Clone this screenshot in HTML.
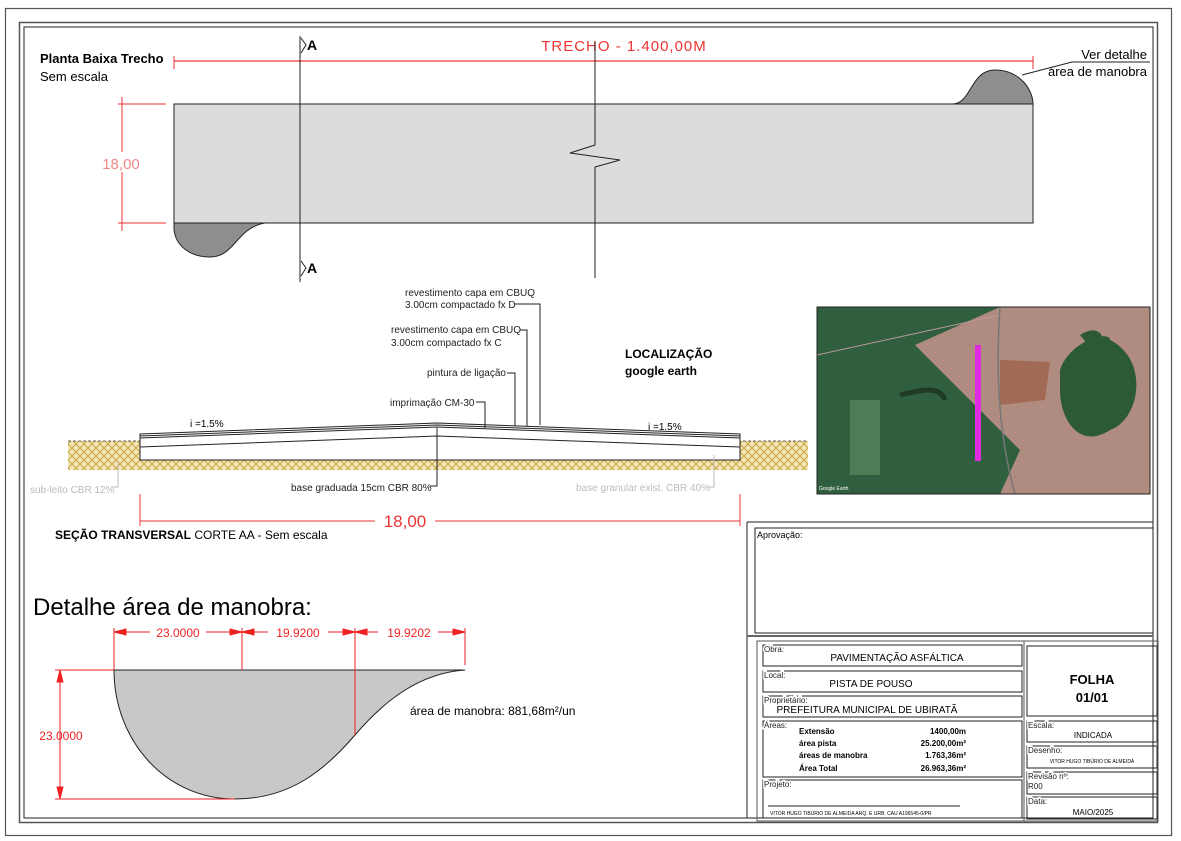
<!DOCTYPE html>
<html><head><meta charset="utf-8"><style>
html,body{margin:0;padding:0;background:#fff}
svg{display:block}
text{font-family:"Liberation Sans",sans-serif}
</style></head><body>
<svg width="1181" height="841" viewBox="0 0 1181 841" xmlns="http://www.w3.org/2000/svg">
<defs>
<pattern id="h" width="8" height="8" patternUnits="userSpaceOnUse">
<rect width="8" height="8" fill="#f3e6b8"/>
<path d="M0 8L8 0M-2 2L2 -2M6 10L10 6M0 0L8 8" stroke="#c9a440" stroke-width="1"/>
</pattern>
</defs>
<rect width="1181" height="841" fill="#fff"/>
<!-- frames -->
<rect x="5.5" y="8.5" width="1166" height="827" fill="none" stroke="#555" stroke-width="1.2"/>
<rect x="19.5" y="22.5" width="1138" height="800" fill="none" stroke="#555" stroke-width="1.5"/>
<rect x="24" y="27" width="1129" height="791" fill="none" stroke="#222" stroke-width="1"/>

<!-- Planta baixa -->
<text x="40" y="63" font-size="13" font-weight="bold">Planta Baixa Trecho</text>
<text x="40" y="81" font-size="13">Sem escala</text>
<line x1="174" y1="61" x2="1033" y2="61" stroke="#e33" stroke-width="1.2"/>
<line x1="174" y1="56" x2="174" y2="69" stroke="#e33"/>
<line x1="1033" y1="56" x2="1033" y2="69" stroke="#e33"/>
<rect x="550" y="38" width="150" height="16" fill="#fff"/>
<text x="624" y="51" font-size="15" fill="#e33" text-anchor="middle" letter-spacing="1">TRECHO - 1.400,00M</text>
<path d="M174 104H952C972 104 970 70 995 70C1020 70 1033 90 1033 104V223H174Z" fill="#dcdcdc" stroke="none"/>
<path d="M952 104C972 104 970 70 995 70C1020 70 1033 90 1033 104Z" fill="#8e8e90" stroke="#222"/>
<rect x="174" y="104" width="859" height="119" fill="none" stroke="#222"/>
<path d="M174 223V230C176 246 190 257 210 257C235 257 236 228 265 223Z" fill="#8e8e90" stroke="#222"/>
<line x1="122" y1="97" x2="122" y2="231" stroke="#e33"/>
<line x1="118" y1="104" x2="166" y2="104" stroke="#e33"/>
<line x1="118" y1="223" x2="166" y2="223" stroke="#e33"/>
<rect x="100" y="152" width="42" height="20" fill="#fff"/>
<text x="121" y="169" font-size="15" fill="#e88" text-anchor="middle">18,00</text>
<line x1="300" y1="36" x2="300" y2="282" stroke="#222"/>
<path d="M301 38L306 45L301 53" fill="none" stroke="#222"/>
<path d="M301 261L306 268L301 276" fill="none" stroke="#222"/>
<text x="307" y="50" font-size="14" font-weight="bold">A</text>
<text x="307" y="273" font-size="14" font-weight="bold">A</text>
<path d="M595 42V145L570 153L620 160L595 167V278" fill="none" stroke="#222"/>
<text x="1147" y="59" font-size="13" text-anchor="end">Ver detalhe</text>
<text x="1147" y="76" font-size="13" text-anchor="end">área de manobra</text>
<line x1="1072" y1="62" x2="1150" y2="62" stroke="#222"/>
<line x1="1072" y1="62" x2="1022" y2="75" stroke="#222"/>

<!-- Section -->
<rect x="68" y="441" width="740" height="29" fill="url(#h)"/>
<line x1="68" y1="441" x2="808" y2="441" stroke="#333" stroke-dasharray="3 2" stroke-width="0.8"/>
<path d="M140 434L437 423L740 434V460H140Z" fill="#fff" stroke="#222"/>
<path d="M140 436L437 425L740 436M140 438L437 427L740 438" fill="none" stroke="#222"/>
<path d="M140 447L437 436L740 447" fill="none" stroke="#222"/>
<text x="190" y="427" font-size="10">i =1.5%</text>
<text x="648" y="430" font-size="10">i =1.5%</text>
<g font-size="10" fill="#222">
<text x="405" y="296">revestimento capa em CBUQ</text>
<text x="405" y="308">3.00cm compactado fx D</text>
<text x="391" y="333">revestimento capa em CBUQ</text>
<text x="391" y="346">3.00cm compactado fx C</text>
<text x="427" y="376">pintura de ligação</text>
<text x="390" y="406">imprimação CM-30</text>
<text x="291" y="491">base graduada 15cm CBR 80%</text>
</g>
<g fill="none" stroke="#222">
<path d="M515 304H540V425"/>
<path d="M520 330H527V426"/>
<path d="M507 373H515V426"/>
<path d="M476 402H485V428"/>
<path d="M437 428V486H430"/>
</g>
<text x="30" y="493" font-size="10" fill="#bbb">sub-leito CBR 12%</text>
<path d="M112 487H118V462" fill="none" stroke="#bbb"/>
<text x="576" y="491" font-size="10" fill="#bbb">base granular exist. CBR 40%</text>
<path d="M707 487H714V455" fill="none" stroke="#bbb"/>
<line x1="140" y1="521" x2="740" y2="521" stroke="#e33"/>
<line x1="140" y1="494" x2="140" y2="526" stroke="#e33"/>
<line x1="740" y1="494" x2="740" y2="526" stroke="#e33"/>
<rect x="375" y="510" width="60" height="20" fill="#fff"/>
<text x="405" y="527" font-size="17" fill="#e33" text-anchor="middle">18,00</text>
<text x="55" y="539" font-size="12"><tspan font-weight="bold">SEÇÃO TRANSVERSAL</tspan> CORTE AA - Sem escala</text>
<text x="625" y="358" font-size="12" font-weight="bold">LOCALIZAÇÃO</text>
<text x="625" y="375" font-size="12" font-weight="bold">google earth</text>

<!-- Map -->
<g>
<rect x="817" y="307" width="333" height="187" fill="#2f5f3e"/>
<path d="M915 345L1000 307H1150V494H1000L1020 450Z" fill="#b08b7f"/>
<path d="M1060 370C1070 340 1110 330 1110 340C1150 360 1140 420 1110 430C1080 450 1060 420 1060 390Z" fill="#2c5a34"/>
<path d="M1080 335C1095 325 1110 330 1100 360Z" fill="#2c5a34"/>
<path d="M1000 360L1050 362L1045 400L1000 405Z" fill="#a06a55"/>
<rect x="850" y="400" width="30" height="75" fill="#4d7d57"/>
<path d="M900 395C920 390 940 385 945 400" stroke="#1f3b25" stroke-width="5" fill="none"/>
<path d="M817 355L1000 315" stroke="#b99" stroke-width="1"/>
<path d="M1000 307C995 380 1000 440 1015 494" stroke="#777" stroke-width="1.5" fill="none"/>
<rect x="975" y="345" width="6" height="116" fill="#e02be0"/>
<text x="819" y="490" font-size="5" fill="#fff">Google Earth</text>
<rect x="817" y="307" width="333" height="187" fill="none" stroke="#222"/>
</g>

<!-- Detail -->
<text x="33" y="615" font-size="24">Detalhe área de manobra:</text>
<path d="M114 670C114 740 165 799 235 799C290 799 325 770 355 735C385 700 420 673 465 670Z" fill="#c8c8c9" stroke="#222"/>
<line x1="114" y1="670" x2="465" y2="670" stroke="#222"/>
<g stroke="#e22" fill="#e22">
<line x1="114" y1="632" x2="465" y2="632"/>
<line x1="114" y1="628" x2="114" y2="670"/>
<line x1="242" y1="628" x2="242" y2="670"/>
<line x1="355" y1="628" x2="355" y2="735"/>
<line x1="465" y1="628" x2="465" y2="665"/>
<path d="M114 632l12 -3v6zM242 632l-12 -3v6zM242 632l12 -3v6zM355 632l-12 -3v6zM355 632l12 -3v6zM465 632l-12 -3v6z"/>
<line x1="60" y1="670" x2="60" y2="799"/>
<line x1="55" y1="670" x2="114" y2="670"/>
<line x1="55" y1="799" x2="235" y2="799"/>
<path d="M60 670l-3 12h6zM60 799l-3 -12h6z"/>
</g>
<rect x="150" y="625" width="56" height="14" fill="#fff"/>
<rect x="268" y="625" width="60" height="14" fill="#fff"/>
<rect x="378" y="625" width="60" height="14" fill="#fff"/>
<g font-size="12" fill="#e22" text-anchor="middle">
<text x="178" y="637">23.0000</text>
<text x="298" y="637">19.9200</text>
<text x="409" y="637">19.9202</text>
<text x="61" y="740">23.0000</text>
</g>
<text x="410" y="715" font-size="12">área de manobra: 881,68m²/un</text>

<!-- Right panel frames -->
<line x1="747" y1="522" x2="747" y2="818" stroke="#222"/>
<line x1="747" y1="522" x2="1153" y2="522" stroke="#222"/>
<rect x="755" y="528" width="398" height="105" fill="none" stroke="#222"/>
<text x="757" y="538" font-size="9">Aprovação:</text>
<line x1="747" y1="636" x2="1153" y2="636" stroke="#666" stroke-width="2"/>
<rect x="757" y="641" width="401" height="180" fill="none" stroke="#555"/>
<line x1="1024" y1="641" x2="1024" y2="821" stroke="#555"/>
<g fill="none" stroke="#222">
<rect x="763" y="645" width="259" height="21"/>
<rect x="763" y="671" width="259" height="21"/>
<rect x="763" y="696" width="259" height="21"/>
<rect x="763" y="721" width="259" height="56"/>
<rect x="763" y="780" width="259" height="38"/>
<rect x="1027" y="646" width="130" height="70"/>
<rect x="1027" y="721" width="130" height="21"/>
<rect x="1027" y="746" width="130" height="22"/>
<rect x="1027" y="772" width="130" height="22"/>
<rect x="1027" y="797" width="130" height="22"/>
<line x1="768" y1="806" x2="960" y2="806"/>
</g>
<g font-size="8" fill="#222">
<text x="764" y="652" style="paint-order:stroke" stroke="#fff" stroke-width="3">Obra:</text>
<text x="764" y="678" style="paint-order:stroke" stroke="#fff" stroke-width="3">Local:</text>
<text x="764" y="703" style="paint-order:stroke" stroke="#fff" stroke-width="3">Proprietário:</text>
<text x="764" y="728" style="paint-order:stroke" stroke="#fff" stroke-width="3">Áreas:</text>
<text x="764" y="787" style="paint-order:stroke" stroke="#fff" stroke-width="3">Projeto:</text>
<text x="1028" y="728" style="paint-order:stroke" stroke="#fff" stroke-width="3">Escala:</text>
<text x="1028" y="753" style="paint-order:stroke" stroke="#fff" stroke-width="3">Desenho:</text>
<text x="1028" y="779" style="paint-order:stroke" stroke="#fff" stroke-width="3">Revisão nº:</text>
<text x="1028" y="789">R00</text>
<text x="1028" y="804" style="paint-order:stroke" stroke="#fff" stroke-width="3">Data:</text>
</g>
<g font-size="10" text-anchor="middle">
<text x="897" y="661">PAVIMENTAÇÃO ASFÁLTICA</text>
<text x="871" y="687">PISTA DE POUSO</text>
<text x="867" y="713">PREFEITURA MUNICIPAL DE UBIRATÃ</text>
<text x="1093" y="738" font-size="8">INDICADA</text>
<text x="1093" y="815" font-size="8">MAIO/2025</text>
<text x="1092" y="763" font-size="5">VITOR HUGO TIBÚRIO DE ALMEIDA</text>
</g>
<text x="1092" y="684" font-size="13" font-weight="bold" text-anchor="middle">FOLHA</text>
<text x="1092" y="702" font-size="13" font-weight="bold" text-anchor="middle">01/01</text>
<g font-size="8" font-weight="bold">
<text x="799" y="734">Extensão</text>
<text x="799" y="746">área pista</text>
<text x="799" y="758">áreas de manobra</text>
<text x="799" y="771">Área Total</text>
<text x="966" y="734" text-anchor="end">1400,00m</text>
<text x="966" y="746" text-anchor="end">25.200,00m²</text>
<text x="966" y="758" text-anchor="end">1.763,36m²</text>
<text x="966" y="771" text-anchor="end">26.963,36m²</text>
</g>
<text x="770" y="815" font-size="5">VITOR HUGO TIBÚRIO DE ALMEIDA     ARQ. E URB. CAU A196545-0/PR</text>
</svg>
</body></html>
